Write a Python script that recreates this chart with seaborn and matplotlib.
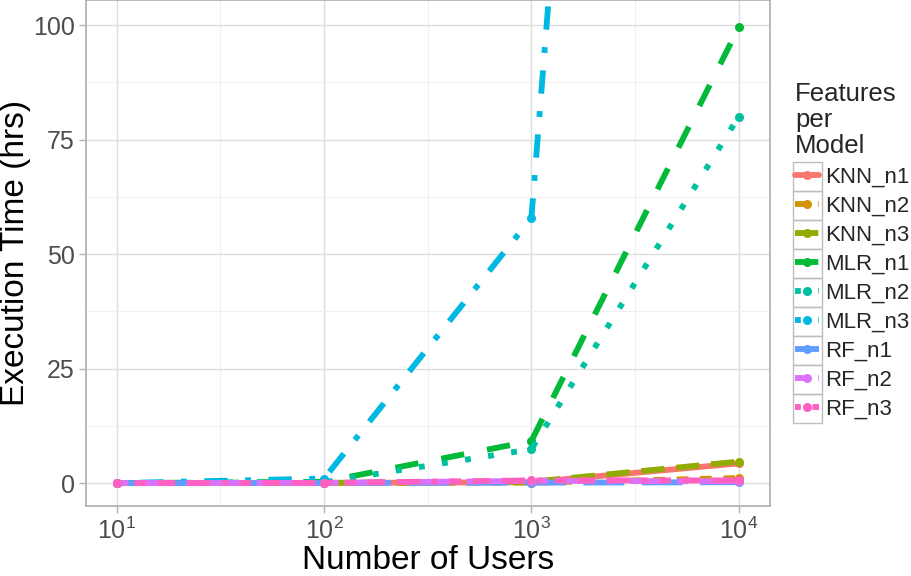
import numpy as np
import pandas as pd
import matplotlib
matplotlib.use("Agg")
import matplotlib.pyplot as plt
import matplotlib.ticker as mticker
from matplotlib.lines import Line2D
from matplotlib.patches import Rectangle
import seaborn as sns

# data
users = [10, 100, 1000, 10000]
models = ["KNN_n1", "KNN_n2", "KNN_n3", "MLR_n1", "MLR_n2", "MLR_n3", "RF_n1", "RF_n2", "RF_n3"]
knn_n1 = [0.0, 0.05, 0.2, 4.3]
knn_n2 = [0.0, 0.05, 0.1, 1.1]
knn_n3 = [0.0, 0.05, 0.3, 4.7]
mlr_n1 = [0.0, 0.3, 9.2, 99.5]
mlr_n2 = [0.0, 0.2, 7.4, 80.0]
mlr_n3 = [0.0, 1.0, 57.9, 630.0]
rf_n1 = [0.0, 0.02, 0.1, 0.2]
rf_n2 = [0.0, 0.05, 0.5, 0.4]
rf_n3 = [0.0, 0.05, 0.6, 0.6]

times = [knn_n1, knn_n2, knn_n3, mlr_n1, mlr_n2, mlr_n3, rf_n1, rf_n2, rf_n3]
df = pd.DataFrame({
    "Users": users * len(models),
    "Time": np.concatenate(times),
    "Model": np.repeat(models, len(users)),
})

colors = ["#F8766D", "#D39200", "#93AA00", "#00BA38", "#00C19F",
          "#00B9E3", "#619CFF", "#DB72FB", "#FF61C3"]
# ggplot default linetype sequence
dash_list = ["", (2, 2), (4, 2), (4, 4), (1, 3), (1, 3, 4, 3), (7, 3), (2, 2, 6, 2), (1, 2, 2, 2, 3, 2, 4, 2)]
palette = dict(zip(models, colors))
dashes = dict(zip(models, dash_list))

sns.set_theme(style="white")
plt.rcParams["font.family"] = ["Liberation Sans", "DejaVu Sans"]

fig = plt.figure(figsize=(9.12, 5.76), dpi=100)
ax = fig.add_axes([0.094, 0.1215, 0.750, 0.8785])

lw = 4.2
sns.lineplot(data=df, x="Users", y="Time", hue="Model", style="Model",
             palette=palette, dashes=dashes, markers=["o"] * 9,
             markersize=6.5, markeredgewidth=0, linewidth=lw,
             dash_capstyle="butt", legend=False, ax=ax, zorder=3)

ax.set_xscale("log")
ax.set_xlim(10 ** 0.85, 10 ** 4.15)
ax.set_ylim(-5.0, 105.5)
ax.xaxis.set_major_locator(mticker.FixedLocator(users))
ax.xaxis.set_major_formatter(mticker.LogFormatterSciNotation())
ax.xaxis.set_minor_locator(mticker.FixedLocator([10 ** 1.5, 10 ** 2.5, 10 ** 3.5]))
ax.xaxis.set_minor_formatter(mticker.NullFormatter())
ax.yaxis.set_major_locator(mticker.MultipleLocator(25))
ax.yaxis.set_minor_locator(mticker.MultipleLocator(12.5))

ax.grid(which="major", color="#DEDEDE", linewidth=1.0)
ax.grid(which="minor", color="#F0F0F0", linewidth=0.8)
for s in ax.spines.values():
    s.set_color("#B3B3B3")
    s.set_linewidth(1.3)
ax.tick_params(which="major", length=5, width=1.0, color="#B3B3B3",
               labelsize=18, labelcolor="#4D4D4D", pad=3, bottom=True, left=True)
ax.tick_params(which="minor", length=0)

ax.set_xlabel("Number of Users", fontsize=24, labelpad=1, color="black")
ax.set_ylabel("Execution Time (hrs)", fontsize=24, labelpad=1, color="black")

handles = [Line2D([], [], color=c, linewidth=lw, linestyle=(0, d) if d else "-",
                  dash_capstyle="butt", marker="o", markersize=6.5, markeredgewidth=0)
           for c, d in zip(colors, dash_list)]
leg = fig.legend(handles, models, title="Features\nper\nModel", loc="center left",
                 bbox_to_anchor=(0.855, 0.565), frameon=False, fontsize=16,
                 title_fontsize=18.5, handlelength=1.05, handletextpad=0.3,
                 labelspacing=0.36, borderpad=0.2)
leg._legend_box.align = "left"
leg.get_title().set_linespacing(1.12)

# key boxes around each legend entry
fig.canvas.draw()
texts = leg.get_texts()
ext = [t.get_window_extent() for t in texts]
pitch = (ext[0].y0 - ext[-1].y0) / (len(ext) - 1)
kw = 29
for e in ext:
    yc = (e.y0 + e.y1) / 2
    x1 = e.x0 - 3
    r = Rectangle(((x1 - kw) / fig.bbox.width, (yc - pitch / 2) / fig.bbox.height),
                  kw / fig.bbox.width, pitch / fig.bbox.height,
                  transform=fig.transFigure, fill=False, edgecolor="#BEBEBE",
                  linewidth=1.0, zorder=0)
    fig.add_artist(r)

fig.savefig("out.png", dpi=100)
